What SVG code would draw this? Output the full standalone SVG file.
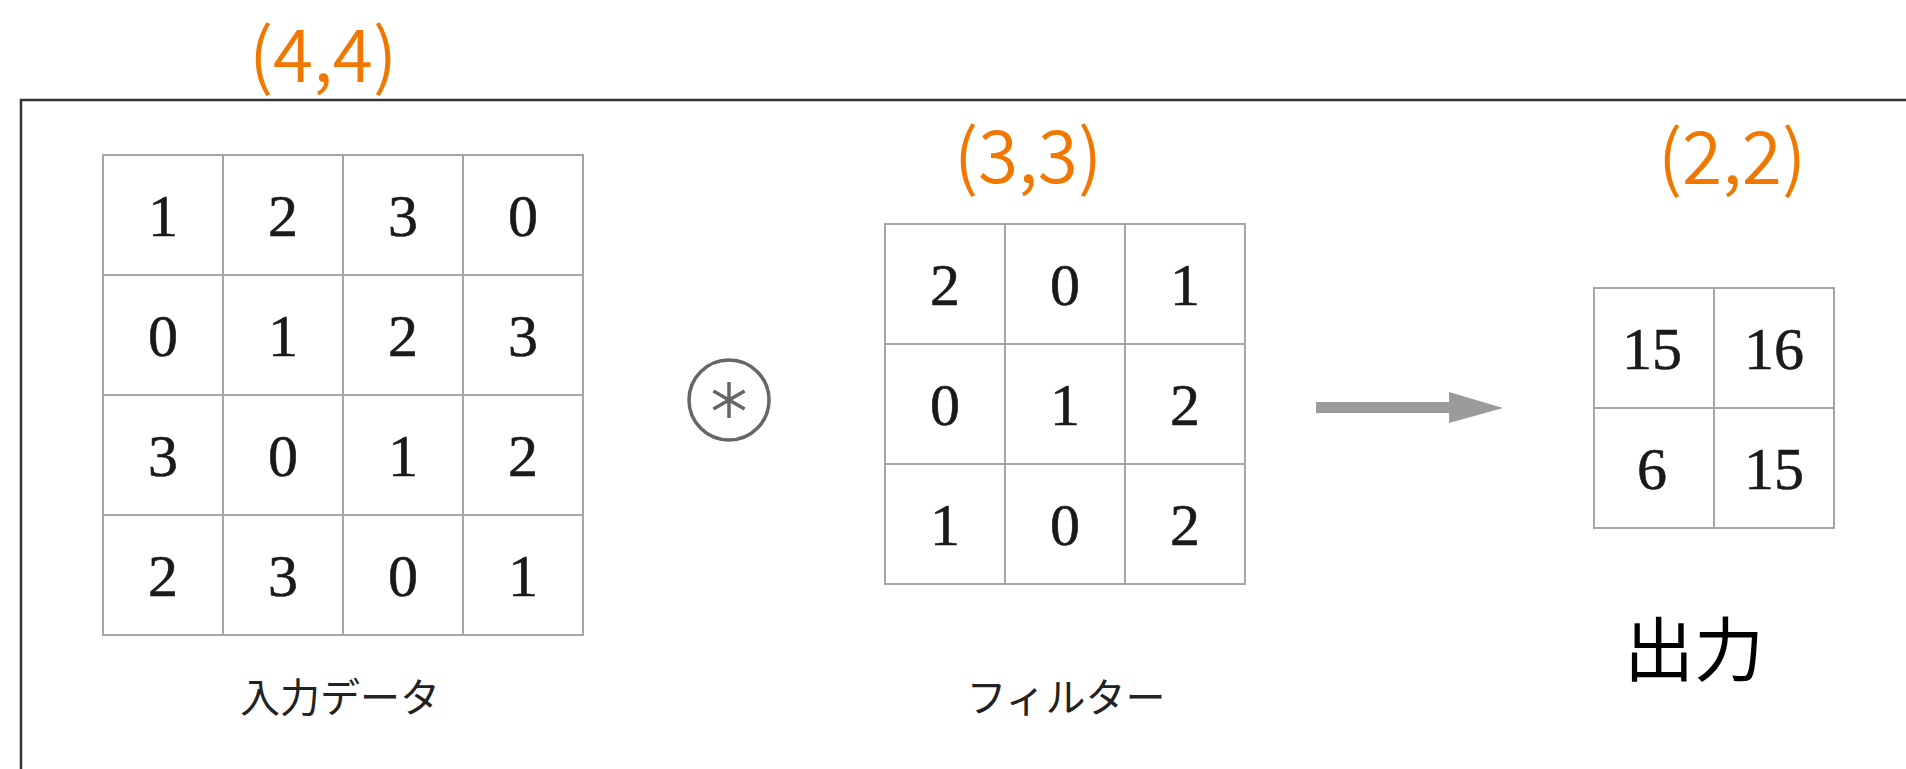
<svg xmlns="http://www.w3.org/2000/svg" width="1906" height="769" viewBox="0 0 1906 769">
<style>
.grid{fill:#fff;stroke:#a6a6a6;stroke-width:2}
.num{font-family:"Liberation Serif","DejaVu Serif",serif;font-size:60px;fill:#1a1a1a;stroke:#1a1a1a;stroke-width:0.6;text-anchor:middle}
.dim{font-family:"Noto Sans CJK JP","Noto Sans",sans-serif;font-size:73px;font-weight:350;fill:#f07800;text-anchor:middle}
.lbl{font-family:"Noto Sans CJK JP","Noto Sans",sans-serif;font-size:40px;fill:#222;text-anchor:middle}
</style>
<rect width="1906" height="769" fill="#fff"/>
<rect x="21" y="100" width="2000" height="800" fill="none" stroke="#333" stroke-width="2.5"/>

<g id="input">
  <text class="dim" x="323" y="82">(4,4)</text>
  <rect class="grid" x="103" y="155" width="480" height="480"/>
  <path class="grid" d="M223,155V635M343,155V635M463,155V635M103,275H583M103,395H583M103,515H583"/>
  <g class="num">
    <text x="163" y="236">1</text><text x="283" y="236">2</text><text x="403" y="236">3</text><text x="523" y="236">0</text>
    <text x="163" y="356">0</text><text x="283" y="356">1</text><text x="403" y="356">2</text><text x="523" y="356">3</text>
    <text x="163" y="476">3</text><text x="283" y="476">0</text><text x="403" y="476">1</text><text x="523" y="476">2</text>
    <text x="163" y="596">2</text><text x="283" y="596">3</text><text x="403" y="596">0</text><text x="523" y="596">1</text>
  </g>
  <text class="lbl" x="340" y="712">入力データ</text>
</g>

<g id="conv-op">
  <circle cx="729" cy="400" r="40" fill="none" stroke="#666" stroke-width="3.5"/>
  <path d="M729,382V418M713.4,391L744.6,409M713.4,409L744.6,391" stroke="#666" stroke-width="3.5" fill="none"/>
</g>

<g id="filter">
  <text class="dim" x="1028" y="183">(3,3)</text>
  <rect class="grid" x="885" y="224" width="360" height="360"/>
  <path class="grid" d="M1005,224V584M1125,224V584M885,344H1245M885,464H1245"/>
  <g class="num">
    <text x="945" y="305">2</text><text x="1065" y="305">0</text><text x="1185" y="305">1</text>
    <text x="945" y="425">0</text><text x="1065" y="425">1</text><text x="1185" y="425">2</text>
    <text x="945" y="545">1</text><text x="1065" y="545">0</text><text x="1185" y="545">2</text>
  </g>
  <text class="lbl" x="1066" y="712">フィルター</text>
</g>

<g id="connectors">
  <rect x="1316" y="402" width="136" height="11" fill="#9b9b9b"/>
  <path d="M1449,392L1503,408L1449,423Z" fill="#9b9b9b"/>
</g>

<g id="output">
  <text class="dim" x="1732" y="184">(2,2)</text>
  <rect class="grid" x="1594" y="288" width="240" height="240"/>
  <path class="grid" d="M1714,288V528M1594,408H1834"/>
  <g class="num">
    <text x="1652" y="369">15</text><text x="1774" y="369">16</text>
    <text x="1652" y="489">6</text><text x="1774" y="489">15</text>
  </g>
  <text class="lbl" x="1694" y="676" style="font-size:70px;fill:#000">出力</text>
</g>
</svg>
